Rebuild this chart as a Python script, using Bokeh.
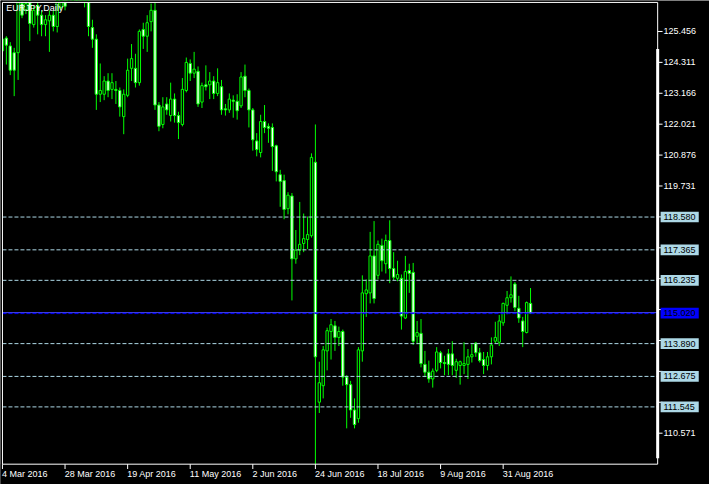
import numpy as np
from bokeh.plotting import figure
from bokeh.models import Range1d, ColumnDataSource
from bokeh.embed import file_html
from bokeh.resources import INLINE
from bokeh.core.properties import value

# ---------------- data ----------------
chart_title = "EURJPY,Daily"

open_ = [124.74, 125.21, 124.92, 124.67, 124.67, 126.49, 126.24, 126.60, 125.71, 126.42,
         126.06, 125.71, 125.85, 126.06, 125.64, 126.35, 126.60, 127.00, 127.40, 127.90,
         127.50, 127.14, 126.78, 125.60, 125.17, 123.13, 123.13, 123.62, 123.31, 123.31,
         123.27, 122.30, 123.09, 124.09, 124.09, 123.56, 125.53, 125.28, 125.82, 126.24,
         122.73, 122.01, 122.77, 122.34, 122.95, 122.34, 122.01, 123.27, 124.27, 123.91,
         123.98, 122.84, 123.48, 123.48, 123.62, 123.16, 123.41, 122.59, 122.55, 122.91,
         122.87, 122.70, 123.80, 123.27, 122.55, 121.40, 120.97, 122.12, 121.94, 121.90,
         121.22, 120.15, 119.93, 118.89, 119.36, 117.03, 117.35, 117.60, 117.75, 117.89,
         120.61, 111.72, 112.33, 113.62, 114.34, 114.55, 114.12, 114.34, 112.65, 112.37,
         111.43, 111.11, 113.62, 115.74, 115.77, 117.14, 116.42, 117.53, 116.85, 117.71,
         116.67, 116.31, 116.31, 114.84, 116.60, 116.53, 114.16, 114.27, 113.12, 112.83,
         112.58, 112.90, 113.55, 113.19, 113.51, 113.51, 112.90, 113.08, 113.08, 113.12,
         113.40, 113.91, 113.55, 113.30, 113.08, 113.40, 113.98, 113.94, 114.66, 115.31,
         115.59, 116.10, 115.20, 114.73, 114.30, 115.38]
high = [125.24, 125.28, 125.06, 124.85, 126.96, 126.71, 126.60, 126.78, 126.42, 126.60,
        126.24, 126.06, 126.24, 126.24, 126.78, 127.14, 126.89, 127.60, 128.10, 128.20,
        127.80, 127.68, 126.96, 125.89, 125.35, 124.27, 123.80, 123.91, 123.91, 123.62,
        123.38, 123.31, 124.45, 124.99, 124.63, 125.53, 125.78, 126.06, 126.49, 126.53,
        122.84, 123.02, 123.02, 123.56, 123.16, 122.48, 123.73, 124.49, 124.42, 124.70,
        124.16, 123.56, 124.20, 123.95, 123.80, 124.09, 123.66, 122.77, 123.16, 123.09,
        123.13, 123.95, 124.23, 123.34, 122.62, 121.69, 122.37, 122.73, 122.05, 122.05,
        121.26, 120.33, 120.15, 119.50, 119.47, 118.10, 119.14, 118.71, 118.60, 120.94,
        122.01, 113.22, 113.80, 114.48, 114.80, 114.73, 114.52, 114.41, 112.72, 112.51,
        111.86, 113.76, 116.42, 116.27, 118.03, 118.43, 117.71, 117.78, 117.93, 118.46,
        117.28, 116.96, 116.45, 117.14, 116.85, 116.88, 114.73, 114.80, 113.62, 113.26,
        112.97, 113.76, 113.62, 113.44, 113.69, 113.98, 113.33, 113.26, 113.94, 113.69,
        113.87, 113.94, 113.73, 113.58, 113.58, 114.12, 114.70, 114.95, 115.41, 115.84,
        116.38, 116.17, 115.66, 114.88, 115.45, 115.95]
low = [124.56, 124.23, 123.84, 123.06, 123.66, 125.95, 126.10, 125.10, 125.60, 125.35,
       125.28, 125.28, 124.70, 125.46, 125.42, 126.24, 126.24, 126.80, 127.20, 127.30,
       126.90, 126.35, 125.28, 124.85, 122.55, 122.84, 122.91, 123.02, 122.95, 122.77,
       122.30, 121.65, 123.02, 123.62, 123.38, 123.45, 124.81, 124.70, 125.46, 122.55,
       121.76, 121.87, 122.37, 122.12, 122.08, 121.47, 121.94, 123.20, 123.62, 123.73,
       122.66, 122.62, 123.27, 122.95, 122.95, 123.06, 122.37, 122.34, 122.44, 122.26,
       122.19, 122.62, 123.02, 121.90, 121.04, 120.83, 120.79, 121.69, 121.33, 120.29,
       119.90, 118.96, 118.50, 118.68, 115.49, 116.85, 117.17, 117.28, 117.39, 117.82,
       109.39, 111.32, 111.86, 112.90, 113.30, 113.62, 113.80, 112.33, 110.75, 111.14,
       110.75, 110.96, 113.22, 114.88, 115.38, 115.38, 116.27, 116.56, 116.49, 116.13,
       116.24, 116.20, 114.41, 114.80, 115.77, 113.84, 113.87, 113.01, 112.65, 112.44,
       112.26, 112.83, 112.97, 112.72, 112.72, 112.72, 112.62, 112.37, 112.76, 112.58,
       113.19, 113.40, 113.19, 112.76, 112.90, 113.12, 113.91, 113.80, 114.55, 114.98,
       115.41, 115.09, 114.66, 113.76, 114.27, 115.00]
close = [125.17, 124.95, 124.02, 124.02, 126.60, 126.06, 126.49, 125.75, 126.24, 126.06,
         125.71, 125.89, 126.06, 125.64, 126.60, 126.96, 126.39, 127.40, 127.90, 127.50,
         127.10, 126.78, 125.64, 125.17, 123.13, 123.27, 123.62, 123.27, 123.56, 123.27,
         122.66, 123.13, 124.02, 124.45, 123.56, 125.46, 125.28, 125.78, 126.24, 122.73,
         121.94, 122.66, 122.55, 122.95, 122.34, 122.08, 123.31, 124.31, 123.91, 124.06,
         122.77, 123.45, 123.41, 123.62, 123.16, 123.56, 122.55, 122.55, 122.95, 122.87,
         122.52, 123.77, 123.27, 122.55, 121.44, 121.08, 122.12, 121.90, 121.87, 121.19,
         120.26, 119.90, 118.86, 119.39, 117.03, 117.35, 117.57, 117.78, 117.93, 120.79,
         113.40, 112.44, 113.66, 114.37, 114.59, 114.12, 114.34, 112.65, 112.37, 111.43,
         110.89, 113.66, 115.77, 115.88, 117.14, 115.56, 117.57, 116.96, 117.71, 116.67,
         116.35, 116.45, 114.91, 116.56, 116.49, 113.98, 114.30, 113.15, 112.83, 112.58,
         112.87, 113.58, 113.19, 113.15, 113.12, 113.08, 113.22, 113.22, 113.15, 113.40,
         113.48, 113.55, 113.26, 113.08, 113.40, 113.84, 114.12, 114.73, 115.38, 115.59,
         115.70, 115.23, 114.84, 114.34, 115.41, 115.02]

date_tick_bars = [0, 16, 32, 48, 64, 80, 96, 112, 128]
date_tick_labels = ["4 Mar 2016", "28 Mar 2016", "19 Apr 2016", "11 May 2016", "2 Jun 2016",
                    "24 Jun 2016", "18 Jul 2016", "9 Aug 2016", "31 Aug 2016"]
price_ticks = [125.456, 124.311, 123.166, 122.021, 120.876, 119.731, 118.586,
               117.441, 116.296, 115.151, 114.006, 112.861, 111.716, 110.571]
level_prices = [118.580, 117.365, 116.235, 113.890, 112.675, 111.545]
bid_price = 115.020

# ---------------- layout (reference pixel geometry) ----------------
REF_W, REF_H = 725, 500
BAR_PX = 4.0
PRICE_PX = 27.88
X0_PX = 2.0
ANCHOR_PRICE, ANCHOR_PX = 125.456, 32.0
FL, FR, FT, FB = 2, 672, 2, 479

def xd(px):
    return (px - X0_PX) / BAR_PX

def yd(py):
    return ANCHOR_PRICE - (py - ANCHOR_PX) / PRICE_PX

FONT = value("Liberation Sans")
FS = "9px"
GREEN = "#00FF00"
LBLUE = "#ADD8E6"

p = figure(width=709, height=484, x_range=Range1d(xd(0), xd(REF_W)),
           y_range=Range1d(yd(REF_H), yd(0)), x_axis_type=None, y_axis_type=None,
           output_backend="svg", toolbar_location=None, min_border=0)
p.min_border_left = p.min_border_right = p.min_border_top = p.min_border_bottom = 0
p.background_fill_color = "black"
p.border_fill_color = "black"
p.outline_line_color = None
p.grid.visible = False

# candles
o = np.array(open_)
c = np.array(close)
idx = np.arange(len(o))
bull = c > o
src = ColumnDataSource(dict(x=idx, top=np.maximum(o, c), bottom=np.minimum(o, c),
                            high=high, low=low,
                            fill=np.where(bull, "black", "white")))
p.segment(x0="x", y0="low", x1="x", y1="high", source=src, line_color=GREEN, line_width=1)
p.vbar(x="x", top="top", bottom="bottom", width=0.6, fill_color="fill",
       line_color=GREEN, line_width=1, source=src)

# horizontal level lines
n = len(level_prices)
p.segment(x0=[xd(FL)] * n, x1=[xd(FR)] * n, y0=level_prices, y1=level_prices,
          line_color=LBLUE, line_width=1, line_dash="4 2")
half_px = 0.5 / PRICE_PX
p.segment(x0=[xd(FL)], x1=[xd(FR)], y0=[bid_price + half_px], y1=[bid_price + half_px],
          line_color="#4646FF", line_width=1)
p.segment(x0=[xd(FL)], x1=[xd(FR)], y0=[bid_price - half_px], y1=[bid_price - half_px],
          line_color="#0000FF", line_width=1, line_dash="4 2")

# mask outside chart frame (emulates clipping)
p.quad(left=[xd(0), xd(0), xd(0)], right=[xd(FR), xd(FL), xd(FR)],
       top=[yd(0), yd(0), yd(FB)], bottom=[yd(FT), yd(REF_H), yd(REF_H)],
       fill_color="black", line_color=None)

# frame
p.segment(x0=[xd(FL), xd(FL), xd(FL), xd(FR)], y0=[yd(FT), yd(FT), yd(FB), yd(FT)],
          x1=[xd(FR), xd(FL), xd(FR), xd(FR)], y1=[yd(FT), yd(FB), yd(FB), yd(FB)],
          line_color="white", line_width=1)
p.segment(x0=[xd(FR)], y0=[yd(50)], x1=[xd(FR)], y1=[yd(473)], line_color="white", line_width=3)

# price axis ticks and labels
m = len(price_ticks)
p.segment(x0=[xd(FR)] * m, x1=[xd(FR + 5)] * m, y0=price_ticks, y1=price_ticks,
          line_color="white", line_width=1)
boxed = level_prices + [bid_price]
shown = [t for t in price_ticks if min(abs(t - b) for b in boxed) > 0.3]
p.text(x=[xd(678)] * len(shown), y=shown, text=["%.3f" % t for t in shown],
       text_color="white", text_font=FONT, text_font_size=FS,
       text_align="left", text_baseline="middle")

# level label boxes
bh = 5.5 / PRICE_PX
p.quad(left=[xd(675)] * n, right=[xd(714)] * n,
       top=[v + bh for v in level_prices], bottom=[v - bh for v in level_prices],
       fill_color=LBLUE, line_color=None)
p.text(x=[xd(678)] * n, y=level_prices, text=["%.3f" % v for v in level_prices],
       text_color="black", text_font=FONT, text_font_size=FS,
       text_align="left", text_baseline="middle")
p.quad(left=[xd(675)], right=[xd(714)], top=[bid_price + bh], bottom=[bid_price - bh],
       fill_color="#0000FF", line_color=None)
p.text(x=[xd(678)], y=[bid_price], text=["%.3f" % bid_price],
       text_color="black", text_font=FONT, text_font_size=FS,
       text_align="left", text_baseline="middle")

# date axis
k = len(date_tick_bars)
p.segment(x0=date_tick_bars, x1=date_tick_bars, y0=[yd(FB)] * k, y1=[yd(FB + 5)] * k,
          line_color="white", line_width=1)
p.text(x=[b - 0.1 for b in date_tick_bars], y=[yd(FB + 4.5)] * k, text=date_tick_labels,
       text_color="white", text_font=FONT, text_font_size=FS,
       text_align="left", text_baseline="top")

# title
p.text(x=[xd(6)], y=[yd(3)], text=[chart_title], text_color="white", text_font=FONT,
       text_font_size=FS, text_align="left", text_baseline="top")

open("out.html", "w").write(file_html(p, INLINE))
